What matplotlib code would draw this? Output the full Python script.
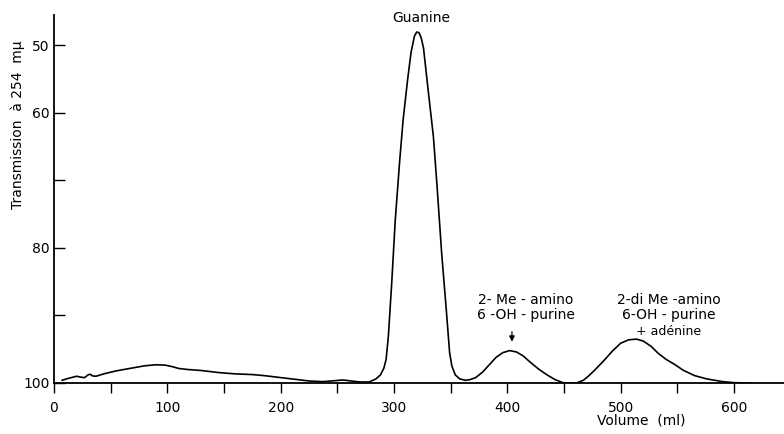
"""Elution profile: transmission at 254 mu vs. effluent volume."""
import matplotlib
matplotlib.use("Agg")
import matplotlib.pyplot as plt

# effluent volume (ml) and transmission (%)
volume = [7, 13, 20, 24, 27, 30, 32, 34, 37, 45, 55, 70, 80, 90, 98, 105,
          110, 118, 130, 145, 160, 175, 185, 195, 210, 225, 237, 248, 255,
          262, 270, 278, 284, 288, 291, 293, 295, 298, 301, 305, 308, 312,
          315, 318, 320, 322, 324, 326, 330, 334.7, 338, 342, 346, 349, 351,
          354, 358, 363, 367, 372, 378, 384, 390, 396, 402, 408, 414, 420,
          428, 435, 442, 449, 455, 461, 467, 472, 477, 485, 493, 500, 507,
          514, 520, 527, 533, 540, 548, 555, 565, 576, 590, 600, 615]
transmission = [99.6, 99.3, 99.0, 99.15, 99.2, 98.8, 98.7, 98.95, 99.0, 98.6,
                98.2, 97.75, 97.45, 97.3, 97.35, 97.6, 97.85, 98.0, 98.15,
                98.45, 98.65, 98.75, 98.9, 99.1, 99.4, 99.7, 99.8, 99.65,
                99.55, 99.7, 99.85, 99.85, 99.4, 98.8, 97.8, 96.5, 93.0, 85.0,
                76.0, 67.0, 61.0, 55.0, 51.0, 48.6, 48.0, 48.1, 48.9, 50.4,
                56.5, 63.5, 71.0, 80.8, 89.0, 95.5, 97.5, 98.8, 99.4, 99.6,
                99.5, 99.2, 98.4, 97.3, 96.2, 95.5, 95.2, 95.4, 96.0, 96.9,
                98.0, 98.8, 99.5, 99.95, 100.0, 100.0, 99.6, 98.9, 98.1, 96.7,
                95.2, 94.1, 93.6, 93.5, 93.8, 94.6, 95.6, 96.5, 97.3, 98.1,
                98.9, 99.4, 99.8, 99.95, 100.0]

x_major = [0, 100, 200, 300, 400, 500, 600]
x_minor = [50, 150, 250, 350, 450, 550]
y_ticks = [50, 60, 70, 80, 90, 100]
y_labels = ["50", "60", "", "80", "", "100"]

fig = plt.figure(figsize=(7.84, 4.34), dpi=100)
ax = fig.add_axes([54 / 784, 51 / 434, 730 / 784, 368 / 434])

ax.plot(volume, transmission, color="black", lw=1.2, solid_capstyle="round")

ax.set_xlim(0, 644)
ax.set_ylim(100, 100 - 368 / 6.75)

for side in ("top", "right"):
    ax.spines[side].set_visible(False)
for side in ("left", "bottom"):
    ax.spines[side].set_linewidth(1.3)

ax.set_xticks(x_major)
ax.set_xticks(x_minor, minor=True)
ax.tick_params(axis="x", which="both", direction="out", length=7, width=1.0,
               labelsize=10, pad=6)
ax.set_yticks(y_ticks)
ax.set_yticklabels(y_labels)
ax.tick_params(axis="y", direction="in", length=8, width=1.0, labelsize=10,
               pad=3)

# axis titles placed where the original has them
fig.text(641.7 / 784, 1 - 421 / 434, "Volume  (ml)", ha="center",
         va="center", fontsize=10)
fig.text(18 / 784, 1 - 125 / 434, "Transmission  à 254  mμ", rotation=90,
         ha="center", va="center", fontsize=10)

# peak labels
ax.text(324, 45.9, "Guanine", ha="center", va="center", fontsize=10,
        clip_on=False)
ax.text(416.5, 87.7, "2- Me - amino", ha="center", va="center", fontsize=10)
ax.text(416.5, 89.9, "6 -OH - purine", ha="center", va="center", fontsize=10)
ax.annotate("", xy=(404, 94.3), xytext=(404, 92.0),
            arrowprops=dict(arrowstyle="-|>", color="black", lw=0.9,
                            mutation_scale=8))
ax.text(542.6, 87.7, "2-di Me -amino", ha="center", va="center", fontsize=10)
ax.text(542.6, 89.9, "6-OH - purine", ha="center", va="center", fontsize=10)
ax.text(542.6, 92.4, "+ adénine", ha="center", va="center", fontsize=9)

fig.savefig("out.png", dpi=100)
